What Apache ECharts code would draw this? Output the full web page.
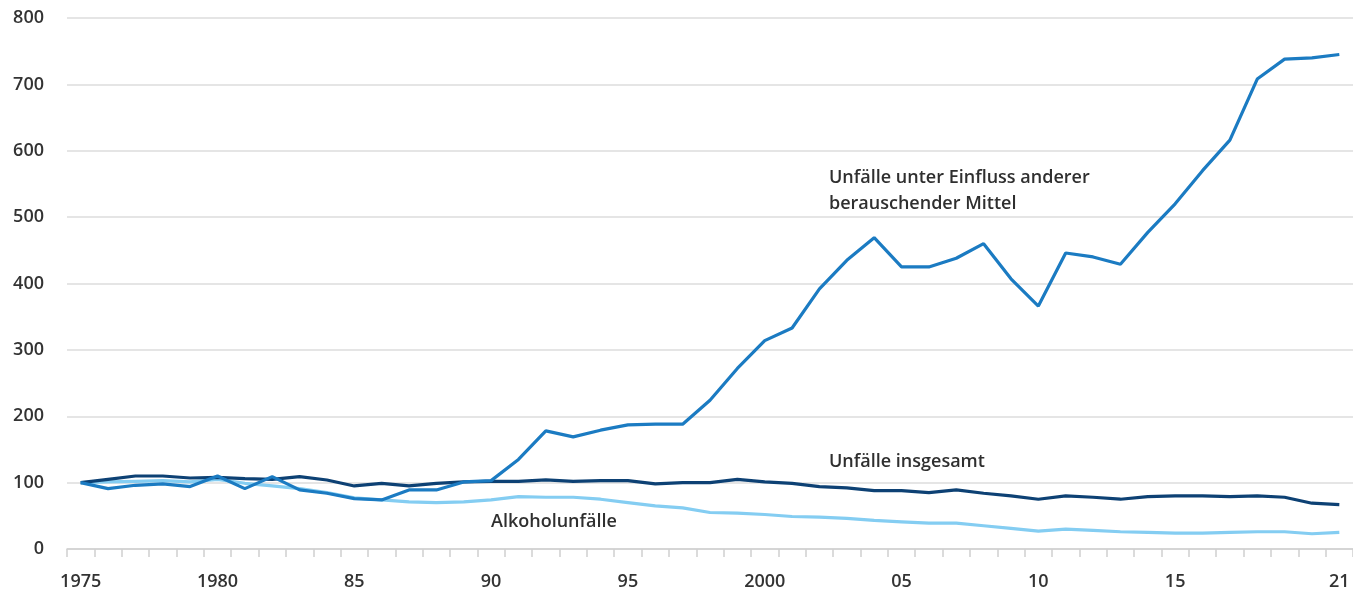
<!DOCTYPE html>
<html>
<head>
<meta charset="utf-8">
<script src="https://cdn.jsdelivr.net/npm/echarts@6/dist/echarts.min.js"></script>
<style>
  html, body { margin: 0; padding: 0; background: #fff; }
  #main { width: 1353px; height: 594px; }
</style>
</head>
<body>
<div id="main"></div>
<script>
// Jahre 1975 - 2021, Index 1975 = 100
var years = []
for (var y = 1975; y <= 2021; y++) years.push(String(y))

var andereMittel = [100, 91, 96, 98, 94, 110, 91, 109, 89, 84,
  76, 74, 89, 89, 101, 103, 135, 178, 169, 179,
  187, 188, 188, 224, 272, 314, 333, 392, 435, 469,
  425, 425, 438, 460, 407, 366, 446, 440, 429, 477,
  520, 570, 616, 708, 738, 740, 745]

var insgesamt = [100, 105, 110, 110, 107, 108, 106, 105, 109, 104,
  95, 99, 95, 99, 101, 102, 102, 104, 102, 103,
  103, 98, 100, 100, 105, 101, 99, 94, 92, 88,
  88, 85, 89, 84, 80, 75, 80, 78, 75, 79,
  80, 80, 79, 80, 78, 69, 67]

var alkohol = [100, 101, 102, 103, 101, 105, 99, 95, 91, 85,
  77, 74, 71, 70, 71, 74, 79, 78, 78, 75,
  70, 65, 62, 55, 54, 52, 49, 48, 46, 43,
  41, 39, 39, 35, 31, 27, 30, 28, 26, 25,
  24, 24, 25, 26, 26, 23, 25]

var yTicks = [0, 100, 200, 300, 400, 500, 600, 700, 800]
var xShown = {'1975': '1975', '1980': '1980', '1985': '85', '1990': '90', '1995': '95',
  '2000': '2000', '2005': '05', '2010': '10', '2015': '15', '2021': '21'}

var textFont = '"Open Sans", "Noto Sans", sans-serif'

var myChart = echarts.init(document.getElementById('main'))

var option = {
  animation: false,
  backgroundColor: '#ffffff',
  grid: { left: 67, right: 0, top: 18, bottom: 45 },
  xAxis: {
    type: 'category',
    data: years,
    boundaryGap: true,
    axisLine: { lineStyle: { color: '#cfcfcf', width: 1.5 } },
    axisTick: { show: true, length: 8, interval: 0, lineStyle: { color: '#cfcfcf', width: 1.5 } },
    axisLabel: {
      interval: 0,
      margin: 24,
      fontFamily: textFont,
      fontSize: 18,
      fontWeight: 600,
      color: '#333333',
      formatter: function (v) { return xShown[v] || '' }
    },
    splitLine: { show: false }
  },
  yAxis: {
    type: 'value',
    min: yTicks[0],
    max: yTicks[yTicks.length - 1],
    interval: 100,
    axisLine: { show: false },
    axisTick: { show: false },
    axisLabel: {
      margin: 23,
      fontFamily: textFont,
      fontSize: 18,
      fontWeight: 600,
      color: '#333333'
    },
    splitLine: { lineStyle: { color: '#dcdcdc', width: 1.5 } }
  },
  series: [
    {
      name: 'Alkoholunfälle',
      type: 'line',
      data: alkohol,
      symbol: 'none',
      lineStyle: { color: '#84cdf2', width: 3.2 }
    },
    {
      name: 'Unfälle insgesamt',
      type: 'line',
      data: insgesamt,
      symbol: 'none',
      lineStyle: { color: '#0d4174', width: 3.2 }
    },
    {
      name: 'Unfälle unter Einfluss anderer berauschender Mittel',
      type: 'line',
      data: andereMittel,
      symbol: 'none',
      lineStyle: { color: '#1b7bc2', width: 3.2 }
    }
  ],
  graphic: [
    {
      type: 'text', left: 829, top: 165,
      style: {
        text: 'Unfälle unter Einfluss anderer\nberauschender Mittel',
        font: '600 18px ' + textFont, fill: '#2f2f2f', lineHeight: 26
      }
    },
    {
      type: 'text', left: 829, top: 453,
      style: { text: 'Unfälle insgesamt', font: '600 18px ' + textFont, fill: '#2f2f2f' }
    },
    {
      type: 'text', left: 491, top: 513,
      style: { text: 'Alkoholunfälle', font: '600 18px ' + textFont, fill: '#2f2f2f' }
    }
  ]
}

myChart.setOption(option)
</script>
</body>
</html>
